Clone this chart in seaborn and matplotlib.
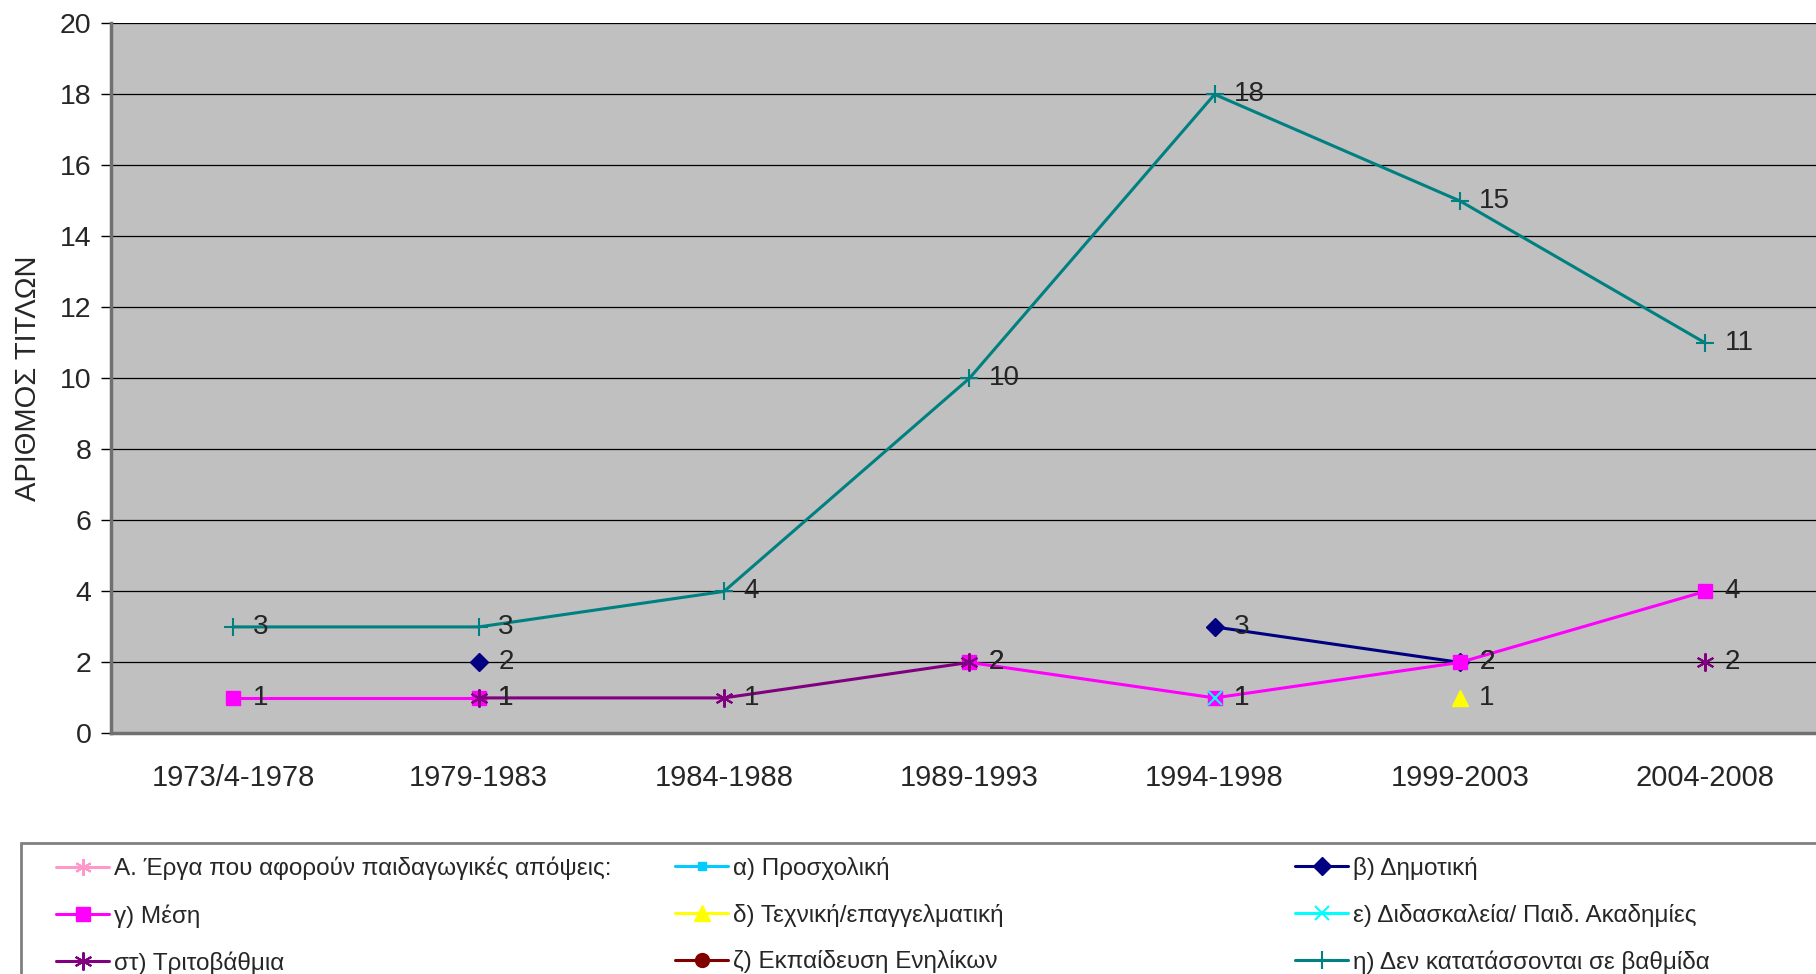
import numpy as np
import pandas as pd
import matplotlib
matplotlib.use("Agg")
import matplotlib.pyplot as plt
from matplotlib.lines import Line2D
from matplotlib.patches import Rectangle
import seaborn as sns

periods = ["1973/4-1978", "1979-1983", "1984-1988", "1989-1993", "1994-1998", "1999-2003", "2004-2008"]

nan = np.nan
vals_A = [nan, nan, nan, nan, nan, nan, nan]
vals_a = [nan, nan, nan, nan, nan, nan, nan]
vals_b = [nan, 2, nan, nan, 3, 2, nan]
vals_g = [1, 1, nan, 2, 1, 2, 4]
vals_d = [nan, nan, nan, nan, nan, 1, nan]
vals_e = [nan, nan, nan, nan, 1, nan, nan]
vals_st = [nan, 1, 1, 2, nan, nan, 2]
vals_z = [nan, nan, nan, nan, nan, nan, nan]
vals_h = [3, 3, 4, 10, 18, 15, 11]

series = [
    ("Α. Έργα που αφορούν παιδαγωγικές απόψεις:", vals_A, "#FF99CC", (6, 2, 0), 12),
    ("α) Προσχολική", vals_a, "#00CCFF", "s", 6),
    ("β) Δημοτική", vals_b, "#000080", "D", 9),
    ("γ) Μέση", vals_g, "#FF00FF", "s", 10),
    ("δ) Τεχνική/επαγγελματική", vals_d, "#FFFF00", "^", 12),
    ("ε) Διδασκαλεία/ Παιδ. Ακαδημίες", vals_e, "#00FFFF", "x", 10),
    ("στ) Τριτοβάθμια", vals_st, "#800080", (6, 2, 0), 13),
    ("ζ) Εκπαίδευση Ενηλίκων", vals_z, "#800000", "o", 10),
    ("η) Δεν κατατάσσονται σε βαθμίδα", vals_h, "#008080", "+", 13),
]

sns.set_style("white")
plt.rcParams["font.family"] = ["Liberation Sans", "DejaVu Sans"]

fig = plt.figure(figsize=(18.16, 9.74), dpi=100)
ax = fig.add_axes([0.061, 0.247, 0.9455, 0.729])
ax.set_facecolor("#C0C0C0")

handles = []
for name, vals, color, marker, ms in series:
    df = pd.DataFrame({"x": np.arange(len(periods)), "v": vals})
    # split into runs so gaps stay gaps
    df["seg"] = df["v"].isna().cumsum()
    df = df.dropna()
    mew = 1.5 if marker in ["+", "x"] or isinstance(marker, tuple) else 1
    if len(df):
        sns.lineplot(data=df, x="x", y="v", units="seg", estimator=None, ax=ax,
                     color=color, linewidth=2.2, marker=marker, markersize=ms,
                     markeredgecolor=color, markerfacecolor=color, markeredgewidth=mew,
                     legend=False, zorder=3)
        for xi, vi in zip(df["x"], df["v"]):
            ax.annotate(f"{int(vi)}", (xi, vi), xytext=(14, 0), textcoords="offset points",
                        ha="left", va="center", fontsize=20, zorder=4)
    handles.append(Line2D([0], [0], color=color, linewidth=2.2, marker=marker, markersize=ms,
                          markeredgecolor=color, markerfacecolor=color, markeredgewidth=mew))

ax.set_xlim(-0.5, 6.5)
ax.set_ylim(0, 20)
ax.set_yticks(range(0, 21, 2))
ax.set_xticks(range(len(periods)))
ax.set_xticklabels(periods)
ax.set_xticks(np.arange(0.5, 6.5, 1), minor=True)
ax.tick_params(axis="x", which="major", length=0, pad=22, labelsize=21)
ax.tick_params(axis="x", which="minor", length=10, width=1, color="black", direction="out")
ax.tick_params(axis="y", which="major", length=7, width=1, color="black", direction="out",
               labelsize=20.5, pad=7, left=True)
ax.grid(axis="y", color="black", linewidth=0.9)
ax.set_axisbelow(True)
ax.set_xlabel("")
ax.set_ylabel("ΑΡΙΘΜΟΣ ΤΙΤΛΩΝ", fontsize=21)
ax.yaxis.set_label_coords(-0.040, 0.5)
for s in ["top", "right"]:
    ax.spines[s].set_visible(False)
for s in ["left", "bottom"]:
    ax.spines[s].set_color("#707070")
    ax.spines[s].set_linewidth(2.5)

# legend frame running off the figure edge
fig.patches.append(Rectangle((21 / 1816, -0.2), 1.2, 0.2 + 1 - 843 / 974, transform=fig.transFigure,
                             facecolor="white", edgecolor="#808080", linewidth=2, zorder=0))

names = [s[0] for s in series]
col_x = [56 / 1816, 675 / 1816, 1295 / 1816]
for c in range(3):
    idx = [c, c + 3, c + 6]
    fig.legend([handles[i] for i in idx], [names[i] for i in idx], loc="upper left",
               bbox_to_anchor=(col_x[c], 1 - 857 / 974), frameon=False, fontsize=17.5,
               handlelength=2.2, handletextpad=0.2, borderpad=0, borderaxespad=0,
               labelspacing=0.97)

fig.savefig("out.png", dpi=100)
